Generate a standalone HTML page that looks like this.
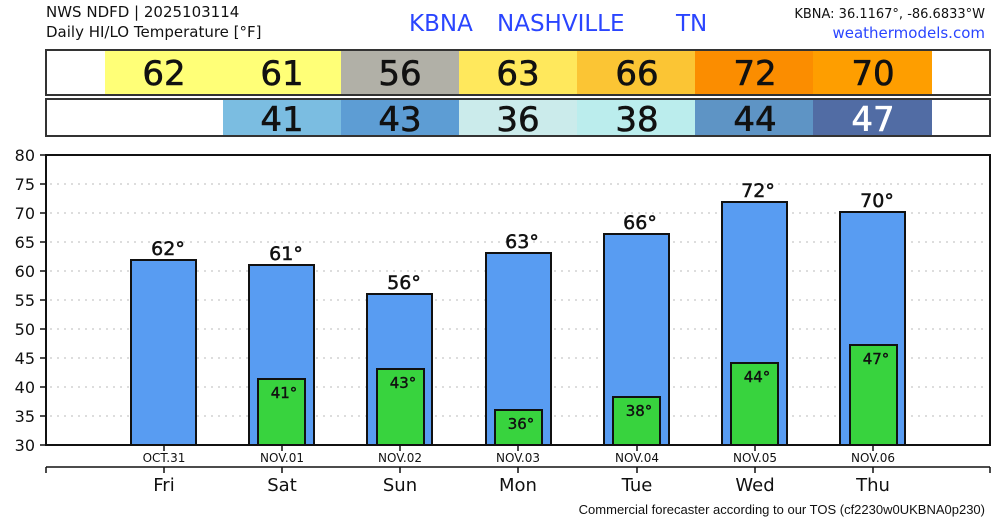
<!DOCTYPE html>
<html><head><meta charset="utf-8"><style>html,body{margin:0;padding:0;background:#fff}svg{display:block}</style></head>
<body>
<svg width="1000" height="520" xmlns="http://www.w3.org/2000/svg" font-family="DejaVu Sans, Liberation Sans, sans-serif">
<text x="46" y="17" font-size="15" fill="#111">NWS NDFD | 2025103114</text>
<text x="46" y="37" font-size="15" fill="#111">Daily HI/LO Temperature [°F]</text>
<text x="409" y="31" font-size="23" fill="#2a45ff">KBNA</text>
<text x="497" y="31" font-size="23" fill="#2a45ff">NASHVILLE</text>
<text x="676" y="31" font-size="23" fill="#2a45ff">TN</text>
<text x="985" y="18" font-size="13" fill="#111" text-anchor="end">KBNA: 36.1167°, -86.6833°W</text>
<text x="985" y="38" font-size="15" fill="#2a45ff" text-anchor="end">weathermodels.com</text>
<rect x="46" y="50" width="944" height="45" fill="#fff"/>
<rect x="105" y="50" width="237" height="45" fill="#ffff77"/>
<rect x="341" y="50" width="119" height="45" fill="#b1b0a7"/>
<rect x="459" y="50" width="119" height="45" fill="#ffe85c"/>
<rect x="577" y="50" width="119" height="45" fill="#fbc534"/>
<rect x="695" y="50" width="119" height="45" fill="#fb8d00"/>
<rect x="813" y="50" width="119" height="45" fill="#fe9e00"/>
<rect x="46" y="50" width="944" height="45" fill="none" stroke="#333" stroke-width="2"/>
<g font-size="34" text-anchor="middle" fill="#111" stroke="#111" stroke-width="0.6">
<text x="164" y="85">62</text><text x="282" y="85">61</text><text x="400" y="85">56</text><text x="518" y="85">63</text><text x="637" y="85">66</text><text x="755" y="85">72</text><text x="873" y="85">70</text>
</g>
<rect x="46" y="99" width="944" height="37" fill="#fff"/>
<rect x="223" y="99" width="119" height="37" fill="#7bbde1"/>
<rect x="341" y="99" width="119" height="37" fill="#5d9dd4"/>
<rect x="459" y="99" width="119" height="37" fill="#cbebeb"/>
<rect x="577" y="99" width="119" height="37" fill="#bbeded"/>
<rect x="695" y="99" width="119" height="37" fill="#5e94c5"/>
<rect x="813" y="99" width="119" height="37" fill="#516ca4"/>
<rect x="46" y="99" width="944" height="37" fill="none" stroke="#333" stroke-width="2"/>
<g font-size="34" text-anchor="middle" fill="#111" stroke="#111" stroke-width="0.6">
<text x="282" y="131">41</text><text x="400" y="131">43</text><text x="518" y="131">36</text><text x="637" y="131">38</text><text x="755" y="131">44</text><text x="873" y="131" fill="#fff" stroke="#fff">47</text>
</g>
<g stroke="#bbb" stroke-width="1" stroke-dasharray="2,5">
<line x1="50" x2="988" y1="184" y2="184"/><line x1="50" x2="988" y1="213" y2="213"/><line x1="50" x2="988" y1="242" y2="242"/><line x1="50" x2="988" y1="271" y2="271"/><line x1="50" x2="988" y1="300" y2="300"/><line x1="50" x2="988" y1="329" y2="329"/><line x1="50" x2="988" y1="358" y2="358"/><line x1="50" x2="988" y1="387" y2="387"/><line x1="50" x2="988" y1="416" y2="416"/>
</g>
<g font-size="16" text-anchor="end" fill="#111">
<text x="35" y="161">80</text><text x="35" y="190">75</text><text x="35" y="219">70</text><text x="35" y="248">65</text><text x="35" y="277">60</text><text x="35" y="306">55</text><text x="35" y="335">50</text><text x="35" y="364">45</text><text x="35" y="393">40</text><text x="35" y="422">35</text><text x="35" y="451">30</text>
</g>
<g stroke="#111" stroke-width="1.5">
<line x1="40" x2="46" y1="155" y2="155"/><line x1="40" x2="46" y1="184" y2="184"/><line x1="40" x2="46" y1="213" y2="213"/><line x1="40" x2="46" y1="242" y2="242"/><line x1="40" x2="46" y1="271" y2="271"/><line x1="40" x2="46" y1="300" y2="300"/><line x1="40" x2="46" y1="329" y2="329"/><line x1="40" x2="46" y1="358" y2="358"/><line x1="40" x2="46" y1="387" y2="387"/><line x1="40" x2="46" y1="416" y2="416"/><line x1="40" x2="46" y1="445" y2="445"/>
</g>
<g fill="#589cf2" stroke="#111" stroke-width="2">
<rect x="131" y="260" width="65" height="185"/>
<rect x="249" y="265" width="65" height="180"/>
<rect x="367" y="294" width="65" height="151"/>
<rect x="486" y="253" width="65" height="192"/>
<rect x="604" y="234" width="65" height="211"/>
<rect x="722" y="202" width="65" height="243"/>
<rect x="840" y="212" width="65" height="233"/>
</g>
<g fill="#38d33e" stroke="#111" stroke-width="2">
<rect x="258" y="379" width="47" height="66"/>
<rect x="377" y="369" width="47" height="76"/>
<rect x="495" y="410" width="47" height="35"/>
<rect x="613" y="397" width="47" height="48"/>
<rect x="731" y="363" width="47" height="82"/>
<rect x="850" y="345" width="47" height="100"/>
</g>
<g font-size="19" text-anchor="middle" fill="#111" stroke="#111" stroke-width="0.5">
<text x="168" y="255">62°</text><text x="286" y="260">61°</text><text x="404" y="289">56°</text><text x="522" y="248">63°</text><text x="640" y="229">66°</text><text x="758" y="197">72°</text><text x="877" y="207">70°</text>
</g>
<g font-size="15" text-anchor="middle" fill="#111" stroke="#111" stroke-width="0.4">
<text x="284" y="398">41°</text><text x="403" y="388">43°</text><text x="521" y="429">36°</text><text x="639" y="416">38°</text><text x="757" y="382">44°</text><text x="876" y="364">47°</text>
</g>
<rect x="46" y="155" width="944" height="290" fill="none" stroke="#111" stroke-width="2"/>
<g stroke="#111" stroke-width="1.5">
<line x1="164" x2="164" y1="445" y2="451"/><line x1="282" x2="282" y1="445" y2="451"/><line x1="400" x2="400" y1="445" y2="451"/><line x1="518" x2="518" y1="445" y2="451"/><line x1="637" x2="637" y1="445" y2="451"/><line x1="755" x2="755" y1="445" y2="451"/><line x1="873" x2="873" y1="445" y2="451"/>
<line x1="46" x2="990" y1="467" y2="467"/>
<line x1="46" x2="46" y1="467" y2="473"/><line x1="990" x2="990" y1="467" y2="473"/>
<line x1="164" x2="164" y1="467" y2="473"/><line x1="282" x2="282" y1="467" y2="473"/><line x1="400" x2="400" y1="467" y2="473"/><line x1="518" x2="518" y1="467" y2="473"/><line x1="637" x2="637" y1="467" y2="473"/><line x1="755" x2="755" y1="467" y2="473"/><line x1="873" x2="873" y1="467" y2="473"/>
</g>
<g font-size="12" text-anchor="middle" fill="#111">
<text x="164" y="462">OCT.31</text><text x="282" y="462">NOV.01</text><text x="400" y="462">NOV.02</text><text x="518" y="462">NOV.03</text><text x="637" y="462">NOV.04</text><text x="755" y="462">NOV.05</text><text x="873" y="462">NOV.06</text>
</g>
<g font-size="18" text-anchor="middle" fill="#111">
<text x="164" y="491">Fri</text><text x="282" y="491">Sat</text><text x="400" y="491">Sun</text><text x="518" y="491">Mon</text><text x="637" y="491">Tue</text><text x="755" y="491">Wed</text><text x="873" y="491">Thu</text>
</g>
<text x="985" y="514" font-size="13" text-anchor="end" fill="#111" font-family="Liberation Sans, sans-serif">Commercial forecaster according to our TOS (cf2230w0UKBNA0p230)</text>
</svg>
</body></html>
